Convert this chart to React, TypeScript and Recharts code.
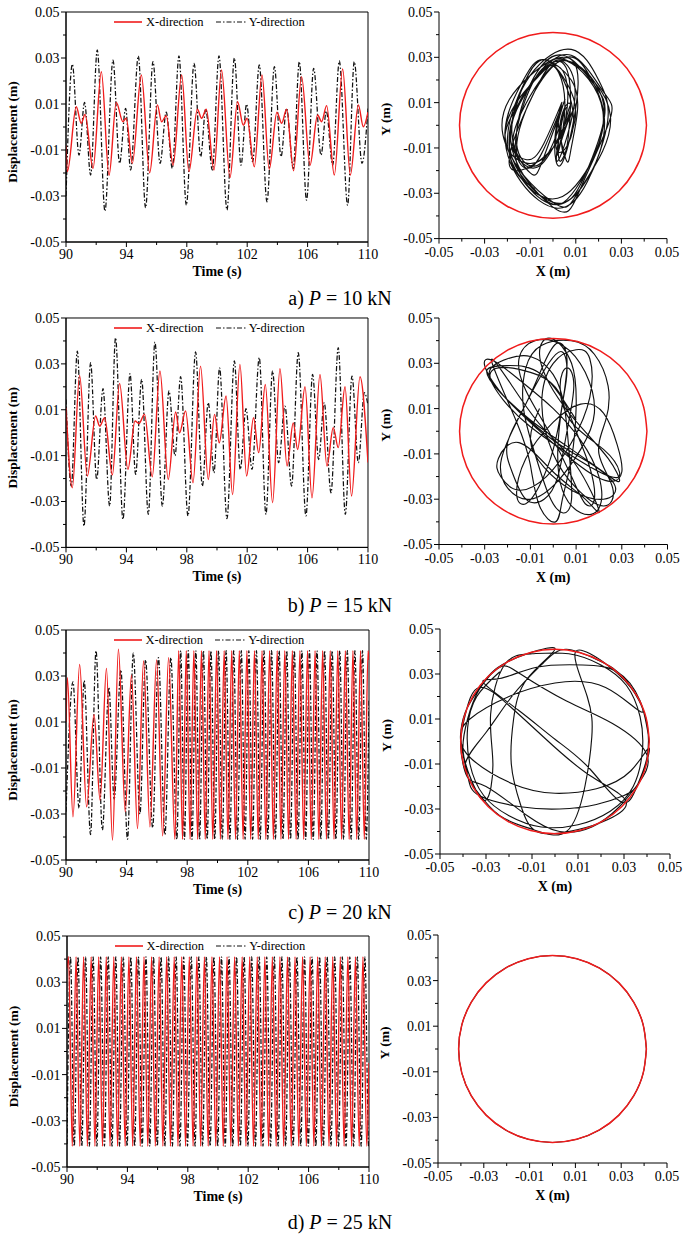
import React from 'react';
import { LineChart, Line, XAxis, YAxis, ReferenceArea, Legend } from 'recharts';

type Pt = [number, number];

const FONT = '"Liberation Serif", "Times New Roman", Times, serif';
const RED = '#f01c1c';
const INK = '#111111';
const DASH = '5 2 1.5 2';

// axis ticks (minor ticks are the ones that are not in the major list)
const timeTicks = [90, 92, 94, 96, 98, 100, 102, 104, 106, 108, 110];
const timeMajor = [90, 94, 98, 102, 106, 110];
const dispTicks = [-0.05, -0.04, -0.03, -0.02, -0.01, 0, 0.01, 0.02, 0.03, 0.04, 0.05];
const dispMajor = [-0.05, -0.03, -0.01, 0.01, 0.03, 0.05];

// a) P = 10 kN : time histories [t (s), displacement (m)], read at the turning points
const aX: Pt[] = [
  [90.0, -0.008], [90.09, -0.0194], [90.68, 0.0088], [91.01, 0.0016], [91.26, 0.0055], [91.79, -0.018],
  [92.34, 0.024], [92.85, -0.021], [93.33, 0.0107], [93.77, 0.0023], [93.99, 0.0038], [94.39, -0.0158],
  [94.99, 0.0226], [95.54, -0.0199], [96.05, 0.0096], [96.33, 0.0023], [96.64, 0.0049], [97.09, -0.0166],
  [97.66, 0.0226], [98.14, -0.0194], [98.7, 0.0077], [98.98, 0.0038], [99.29, 0.0077], [99.8, -0.0187],
  [100.3, 0.0248], [100.86, -0.022], [101.36, 0.011], [101.74, 0.0008], [101.99, 0.0038], [102.47, -0.0173],
  [102.98, 0.0226], [103.46, -0.0184], [103.97, 0.0064], [104.28, 0.0016], [104.61, 0.0077], [105.07, -0.019],
  [105.6, 0.0219], [106.16, -0.0166], [106.66, 0.0052], [106.93, 0.0023], [107.26, 0.0093], [107.77, -0.0209],
  [108.32, 0.0252], [108.83, -0.0209], [109.36, 0.0096], [109.69, 0.0001], [110.0, 0.0065],
];
const aY: Pt[] = [
  [90.0, -0.03], [90.42, 0.0273], [90.86, -0.0122], [91.23, 0.0107], [91.63, -0.0209], [92.07, 0.0335],
  [92.58, -0.0366], [93.11, 0.0291], [93.55, -0.0158], [93.95, 0.0081], [94.28, -0.0187], [94.79, 0.0309],
  [95.27, -0.0351], [95.76, 0.0284], [96.23, -0.0158], [96.64, 0.0065], [97.04, -0.018], [97.48, 0.0309],
  [97.97, -0.034], [98.48, 0.0277], [98.92, -0.0129], [99.25, 0.0078], [99.69, -0.0187], [100.13, 0.0309],
  [100.66, -0.0361], [101.15, 0.03], [101.59, -0.0166], [101.96, 0.0099], [102.36, -0.0151], [102.8, 0.027],
  [103.31, -0.0325], [103.8, 0.0262], [104.24, -0.0129], [104.61, 0.0081], [105.05, -0.018], [105.45, 0.0284],
  [105.93, -0.0318], [106.4, 0.0255], [106.89, -0.0122], [107.24, 0.0069], [107.66, -0.0166], [108.1, 0.0287],
  [108.65, -0.034], [109.09, 0.0284], [109.6, -0.0158], [110.0, 0.008],
];

// b) P = 15 kN
const bX: Pt[] = [
  [90.0, 0.011], [90.42, -0.024], [90.9, 0.025], [91.41, -0.0189], [91.96, 0.0073], [92.23, 0.0029],
  [92.56, 0.0065], [93.07, -0.0184], [93.55, 0.0215], [94.1, -0.016], [94.57, 0.0051], [94.83, 0.004],
  [95.2, 0.008], [95.71, -0.0192], [96.22, 0.0269], [96.77, -0.0204], [97.26, 0.009], [97.52, 0.0],
  [97.92, 0.0095], [98.41, -0.0218], [98.91, 0.029], [99.42, -0.0204], [99.84, 0.008], [100.15, -0.0044],
  [100.6, 0.016], [101.03, -0.027], [101.52, 0.0298], [101.96, -0.0189], [102.42, 0.0065], [102.76, -0.0087],
  [103.2, 0.021], [103.68, -0.0305], [104.17, 0.0279], [104.64, -0.0145], [105.05, 0.0043], [105.34, -0.0073],
  [105.83, 0.02], [106.29, -0.0284], [106.82, 0.0254], [107.28, -0.0145], [107.7, 0.0022], [108.03, -0.0065],
  [108.48, 0.02], [108.91, -0.0276], [109.47, 0.0244], [110.0, -0.013],
];
const bY: Pt[] = [
  [90.0, 0.0145], [90.35, -0.0233], [90.75, 0.0356], [91.19, -0.0407], [91.63, 0.0305], [92.03, -0.0204],
  [92.45, 0.0192], [92.89, -0.032], [93.28, 0.0414], [93.77, -0.0378], [94.24, 0.0257], [94.61, -0.0182],
  [95.01, 0.0233], [95.45, -0.0356], [95.89, 0.0395], [96.38, -0.032], [96.82, 0.0182], [97.22, -0.01],
  [97.59, 0.0244], [98.08, -0.0363], [98.58, 0.0352], [99.03, -0.0233], [99.42, 0.0131], [99.8, -0.0175],
  [100.17, 0.0283], [100.66, -0.0375], [101.15, 0.0313], [101.54, -0.016], [101.92, 0.0105], [102.32, -0.016],
  [102.8, 0.0327], [103.24, -0.0356], [103.68, 0.0269], [104.08, -0.0131], [104.5, 0.0116], [104.94, -0.0233],
  [105.38, 0.0349], [105.89, -0.0363], [106.33, 0.0254], [106.73, -0.0117], [107.1, 0.0131], [107.55, -0.0262],
  [108.03, 0.0371], [108.5, -0.0356], [108.94, 0.0247], [109.36, -0.0131], [109.76, 0.0175], [110.0, 0.012],
];

// c) P = 20 kN
const cX: Pt[] = [
  [90.0, 0.01], [90.09, 0.0293], [90.46, -0.0312], [90.9, 0.035], [91.36, -0.0269], [91.85, 0.0133],
  [92.25, -0.024], [92.67, 0.0333], [93.07, -0.0413], [93.46, 0.0416], [93.91, -0.029], [94.32, 0.0304],
  [94.72, -0.0363], [95.12, 0.0365], [95.54, -0.0356], [95.98, 0.037], [96.38, -0.0395], [96.77, 0.038],
  [97.19, -0.041], [97.44, 0.041], [97.69, -0.041], [97.94, 0.041], [98.19, -0.041], [98.44, 0.041],
  [98.69, -0.041], [98.94, 0.041], [99.19, -0.041], [99.44, 0.041], [99.69, -0.041], [99.94, 0.041],
  [100.19, -0.041], [100.44, 0.041], [100.69, -0.041], [100.94, 0.041], [101.19, -0.041], [101.44, 0.041],
  [101.69, -0.041], [101.94, 0.041], [102.19, -0.041], [102.44, 0.041], [102.69, -0.041], [102.94, 0.041],
  [103.19, -0.041], [103.44, 0.041], [103.69, -0.041], [103.94, 0.041], [104.19, -0.041], [104.44, 0.041],
  [104.69, -0.041], [104.94, 0.041], [105.19, -0.041], [105.44, 0.041], [105.69, -0.041], [105.94, 0.041],
  [106.19, -0.041], [106.44, 0.041], [106.69, -0.041], [106.94, 0.041], [107.19, -0.041], [107.44, 0.041],
  [107.69, -0.041], [107.94, 0.041], [108.19, -0.041], [108.44, 0.041], [108.69, -0.041], [108.94, 0.041],
  [109.19, -0.041], [109.44, 0.041], [109.69, -0.041], [109.94, 0.041], [110.0, 0.037],
];
const cY: Pt[] = [
  [90.0, -0.029], [90.46, 0.0275], [90.86, -0.0275], [91.2, 0.028], [91.62, -0.039], [91.98, 0.041],
  [92.4, -0.037], [92.83, 0.025], [93.18, -0.0235], [93.62, 0.0326], [94.06, -0.041], [94.44, 0.04],
  [94.88, -0.03], [95.25, 0.037], [95.72, -0.036], [96.1, 0.038], [96.53, -0.039], [96.92, 0.038],
  [97.32, -0.041], [97.57, 0.041], [97.82, -0.041], [98.07, 0.041], [98.32, -0.041], [98.57, 0.041],
  [98.82, -0.041], [99.07, 0.041], [99.32, -0.041], [99.57, 0.041], [99.82, -0.041], [100.07, 0.041],
  [100.32, -0.041], [100.57, 0.041], [100.82, -0.041], [101.07, 0.041], [101.32, -0.041], [101.57, 0.041],
  [101.82, -0.041], [102.07, 0.041], [102.32, -0.041], [102.57, 0.041], [102.82, -0.041], [103.07, 0.041],
  [103.32, -0.041], [103.57, 0.041], [103.82, -0.041], [104.07, 0.041], [104.32, -0.041], [104.57, 0.041],
  [104.82, -0.041], [105.07, 0.041], [105.32, -0.041], [105.57, 0.041], [105.82, -0.041], [106.07, 0.041],
  [106.32, -0.041], [106.57, 0.041], [106.82, -0.041], [107.07, 0.041], [107.32, -0.041], [107.57, 0.041],
  [107.82, -0.041], [108.07, 0.041], [108.32, -0.041], [108.57, 0.041], [108.82, -0.041], [109.07, 0.041],
  [109.32, -0.041], [109.57, 0.041], [109.82, -0.041], [110.0, 0.02],
];

// d) P = 25 kN
const dX: Pt[] = [
  [90.0, 0.036], [90.1, 0.041], [90.35, -0.041], [90.6, 0.041], [90.85, -0.041], [91.1, 0.041], [91.35, -0.041],
  [91.6, 0.041], [91.85, -0.041], [92.1, 0.041], [92.35, -0.041], [92.6, 0.041], [92.85, -0.041],
  [93.1, 0.041], [93.35, -0.041], [93.6, 0.041], [93.85, -0.041], [94.1, 0.041], [94.35, -0.041],
  [94.6, 0.041], [94.85, -0.041], [95.1, 0.041], [95.35, -0.041], [95.6, 0.041], [95.85, -0.041],
  [96.1, 0.041], [96.35, -0.041], [96.6, 0.041], [96.85, -0.041], [97.1, 0.041], [97.35, -0.041],
  [97.6, 0.041], [97.85, -0.041], [98.1, 0.041], [98.35, -0.041], [98.6, 0.041], [98.85, -0.041],
  [99.1, 0.041], [99.35, -0.041], [99.6, 0.041], [99.85, -0.041], [100.1, 0.041], [100.35, -0.041],
  [100.6, 0.041], [100.85, -0.041], [101.1, 0.041], [101.35, -0.041], [101.6, 0.041], [101.85, -0.041],
  [102.1, 0.041], [102.35, -0.041], [102.6, 0.041], [102.85, -0.041], [103.1, 0.041], [103.35, -0.041],
  [103.6, 0.041], [103.85, -0.041], [104.1, 0.041], [104.35, -0.041], [104.6, 0.041], [104.85, -0.041],
  [105.1, 0.041], [105.35, -0.041], [105.6, 0.041], [105.85, -0.041], [106.1, 0.041], [106.35, -0.041],
  [106.6, 0.041], [106.85, -0.041], [107.1, 0.041], [107.35, -0.041], [107.6, 0.041], [107.85, -0.041],
  [108.1, 0.041], [108.35, -0.041], [108.6, 0.041], [108.85, -0.041], [109.1, 0.041], [109.35, -0.041],
  [109.6, 0.041], [109.85, -0.041], [110.0, -0.005],
];
const dY: Pt[] = [
  [90.0, -0.04], [90.23, 0.041], [90.48, -0.041], [90.73, 0.041], [90.98, -0.041], [91.23, 0.041],
  [91.48, -0.041], [91.73, 0.041], [91.98, -0.041], [92.23, 0.041], [92.48, -0.041], [92.73, 0.041],
  [92.98, -0.041], [93.23, 0.041], [93.48, -0.041], [93.73, 0.041], [93.98, -0.041], [94.23, 0.041],
  [94.48, -0.041], [94.73, 0.041], [94.98, -0.041], [95.23, 0.041], [95.48, -0.041], [95.73, 0.041],
  [95.98, -0.041], [96.23, 0.041], [96.48, -0.041], [96.73, 0.041], [96.98, -0.041], [97.23, 0.041],
  [97.48, -0.041], [97.73, 0.041], [97.98, -0.041], [98.23, 0.041], [98.48, -0.041], [98.73, 0.041],
  [98.98, -0.041], [99.23, 0.041], [99.48, -0.041], [99.73, 0.041], [99.98, -0.041], [100.23, 0.041],
  [100.48, -0.041], [100.73, 0.041], [100.98, -0.041], [101.23, 0.041], [101.48, -0.041], [101.73, 0.041],
  [101.98, -0.041], [102.23, 0.041], [102.48, -0.041], [102.73, 0.041], [102.98, -0.041], [103.23, 0.041],
  [103.48, -0.041], [103.73, 0.041], [103.98, -0.041], [104.23, 0.041], [104.48, -0.041], [104.73, 0.041],
  [104.98, -0.041], [105.23, 0.041], [105.48, -0.041], [105.73, 0.041], [105.98, -0.041], [106.23, 0.041],
  [106.48, -0.041], [106.73, 0.041], [106.98, -0.041], [107.23, 0.041], [107.48, -0.041], [107.73, 0.041],
  [107.98, -0.041], [108.23, 0.041], [108.48, -0.041], [108.73, 0.041], [108.98, -0.041], [109.23, 0.041],
  [109.48, -0.041], [109.73, 0.041], [109.98, -0.041], [110.0, -0.041],
];

// orbits [X (m), Y (m)]
const orbitA: Pt[] = [
  [-0.008, -0.028], [-0.019, -0.012], [-0.012, 0.02], [0.0, 0.027], [0.009, 0.003], [0.003, -0.012],
  [0.002, 0.0], [0.005, 0.0107], [-0.004, -0.014], [-0.01, -0.021], [-0.018, -0.004], [-0.01, 0.022],
  [0.008, 0.0335], [0.02, 0.02], [0.024, 0.002], [0.015, -0.025], [0.002, -0.0366], [-0.014, -0.025],
  [-0.021, -0.002], [-0.013, 0.02], [-0.004, 0.029], [0.008, 0.02], [0.0107, 0.006], [0.008, -0.01],
  [0.006, -0.0158], [0.003, -0.004], [0.0025, 0.004], [0.0037, 0.0081], [-0.002, -0.006], [-0.01, -0.0187],
  [-0.016, -0.01], [-0.008, 0.015], [0.006, 0.03], [0.016, 0.022], [0.0226, 0.002], [0.016, -0.022],
  [0.002, -0.035], [-0.012, -0.026], [-0.02, -0.006], [-0.012, 0.02], [-0.002, 0.0284], [0.009, 0.012],
  [0.008, -0.004], [0.003, -0.0158], [0.003, 0.0], [0.005, 0.0065], [0.0, -0.008], [-0.008, -0.018],
  [-0.016, -0.008], [-0.01, 0.018], [0.004, 0.031], [0.018, 0.018], [0.0226, 0.004], [0.014, -0.022],
  [0.0, -0.034], [-0.019, -0.01], [-0.008, 0.02], [0.004, 0.0277], [0.0077, 0.01], [0.005, -0.0129],
  [0.004, 0.004], [0.0077, 0.0078], [0.0, -0.01], [-0.01, -0.0187], [-0.0187, -0.004], [-0.008, 0.02],
  [0.008, 0.0309], [0.022, 0.015], [0.0248, 0.002], [0.012, -0.028], [0.0, -0.0361], [-0.022, -0.004],
  [-0.01, 0.022], [0.004, 0.03], [0.011, 0.018], [0.004, -0.0166], [0.001, -0.004], [0.0038, 0.0099],
  [-0.004, -0.008], [-0.012, -0.0151], [-0.0173, -0.004], [-0.004, 0.022], [0.01, 0.027], [0.0226, 0.005],
  [0.01, -0.028], [-0.004, -0.0325], [-0.0184, -0.008], [-0.01, 0.018], [0.002, 0.0262], [0.0064, 0.01],
  [0.002, -0.0129], [0.005, 0.0], [0.0077, 0.0081], [0.0, -0.01], [-0.019, -0.018], [-0.008, 0.015],
  [0.006, 0.0284], [0.0219, 0.006], [0.012, -0.024], [-0.004, -0.0318], [-0.0166, -0.01], [-0.004, 0.0255],
  [0.0052, 0.01], [0.002, -0.0122], [0.006, 0.0], [0.009, 0.0069], [0.0, -0.01], [-0.012, -0.0166],
  [-0.021, -0.004], [-0.008, 0.02], [0.006, 0.0287], [0.0252, 0.004], [0.012, -0.028], [0.0, -0.034],
  [-0.0209, -0.006], [-0.006, 0.022], [0.004, 0.0284], [0.0096, 0.012], [0.002, -0.0158], [0.004, 0.002],
  [0.0065, 0.008],
];
const orbitB: Pt[] = [
  [0.01, 0.005], [-0.005, 0.025], [-0.02, 0.029], [-0.029, 0.027], [-0.024, 0.018], [-0.01, 0.005],
  [0.008, -0.008], [0.022, -0.018], [0.029, -0.022], [0.024, -0.012], [0.012, 0.002], [0.0, 0.018],
  [-0.006, 0.034], [-0.001, 0.041], [0.008, 0.03], [0.01, 0.01], [0.008, -0.012], [0.004, -0.03],
  [0.001, -0.04], [-0.006, -0.033], [-0.01, -0.015], [-0.016, 0.004], [-0.027, 0.031], [-0.018, 0.02],
  [-0.005, 0.002], [0.01, -0.015], [0.02, -0.035], [0.014, -0.03], [0.0, -0.018], [-0.015, -0.005],
  [-0.024, -0.012], [-0.023, -0.02], [-0.015, -0.026], [-0.003, -0.02], [0.008, -0.005], [0.016, 0.015],
  [0.016, 0.032], [0.01, 0.036], [0.0, 0.03], [-0.005, 0.012], [0.0, -0.01], [0.01, -0.025],
  [0.022, -0.033], [0.026, -0.025], [0.02, -0.01], [0.023, 0.005], [0.024, 0.02], [0.018, 0.034],
  [0.008, 0.04], [-0.005, 0.038], [-0.012, 0.028], [-0.013, 0.01], [-0.008, -0.01], [-0.002, -0.028],
  [0.004, -0.036], [0.008, -0.03], [0.007, -0.01], [0.005, 0.01], [0.0, 0.025], [-0.01, 0.033],
  [-0.02, 0.032], [-0.028, 0.026], [-0.022, 0.014], [-0.01, 0.002], [0.01, -0.012], [0.025, -0.02],
  [0.029, -0.018], [0.022, -0.008], [0.008, 0.004], [0.003, 0.02], [0.006, 0.028], [0.009, 0.02],
  [0.006, 0.0], [0.002, -0.02], [-0.004, -0.03], [-0.012, -0.03], [-0.018, -0.018], [-0.02, -0.005],
  [-0.012, 0.012], [-0.004, 0.03], [0.002, 0.039], [0.006, 0.032], [0.004, 0.012], [0.0, -0.008],
  [-0.006, -0.024], [-0.012, -0.032], [-0.016, -0.028], [-0.012, -0.012], [0.0, 0.004], [0.012, 0.012],
  [0.022, 0.008], [0.028, -0.006], [0.03, -0.018], [0.024, -0.022], [0.01, -0.014], [-0.008, 0.002],
  [-0.022, 0.016], [-0.03, 0.029], [-0.026, 0.031], [-0.014, 0.022], [0.0, 0.01], [0.012, -0.004],
  [0.02, -0.02], [0.02, -0.034], [0.012, -0.036], [0.004, -0.026], [0.002, -0.008], [0.004, 0.012],
  [0.006, 0.026], [0.004, 0.035], [-0.002, 0.03], [-0.01, 0.016], [-0.018, 0.0], [-0.023, -0.014],
  [-0.02, -0.025], [-0.01, -0.03], [0.002, -0.022], [0.012, -0.008], [0.018, 0.008], [0.014, 0.026],
  [0.004, 0.038], [-0.008, 0.04], [-0.015, 0.032], [-0.012, 0.018], [-0.002, 0.0], [0.008, -0.02],
  [0.014, -0.032], [0.018, -0.03], [0.016, -0.016], [0.01, 0.0], [0.002, 0.018], [-0.01, 0.026],
  [-0.024, 0.028], [-0.027, 0.022], [-0.016, 0.01], [0.0, -0.004], [0.016, -0.014], [0.027, -0.024],
  [0.022, -0.03], [0.008, -0.026], [-0.004, -0.016], [-0.01, -0.004], [-0.006, 0.01],
];
const orbitC: Pt[] = [
  [0.041, 0.0], [0.037, 0.018], [0.027, 0.031], [0.012, 0.034], [-0.008, 0.033], [-0.024, 0.028],
  [-0.031, 0.026], [-0.016, 0.014], [0.0, 0.001], [0.015, -0.012], [0.029, -0.027], [0.036, -0.019],
  [0.04, -0.007], [0.04, 0.008], [0.035, 0.021], [0.024, 0.033], [0.009, 0.04], [0.014, 0.02],
  [0.016, 0.002], [0.013, -0.02], [0.005, -0.04], [-0.01, -0.039], [-0.024, -0.033], [-0.034, -0.022],
  [-0.039, -0.01], [-0.03, 0.004], [-0.018, 0.021], [-0.005, 0.035], [0.005, 0.041], [0.019, 0.036],
  [0.031, 0.027], [0.038, 0.013], [0.022, 0.024], [0.0, 0.026], [-0.02, 0.02], [-0.037, 0.01],
  [-0.041, 0.0], [-0.038, -0.015], [-0.033, -0.024], [-0.015, -0.029], [0.002, -0.03], [0.018, -0.028],
  [0.03, -0.024], [0.037, -0.017], [0.041, -0.003], [0.033, -0.013], [0.018, -0.021], [0.0, -0.023],
  [-0.018, -0.019], [-0.036, -0.008], [-0.041, 0.002], [-0.039, 0.013], [-0.034, 0.022], [-0.026, 0.032],
  [-0.012, 0.039], [0.0, 0.041], [-0.012, 0.028], [-0.018, 0.01], [-0.019, -0.01], [-0.015, -0.028],
  [-0.008, -0.04], [0.006, -0.04], [0.02, -0.036], [0.031, -0.027], [0.015, -0.015], [-0.005, 0.002],
  [-0.02, 0.016], [-0.033, 0.024], [-0.039, 0.012], [-0.041, -0.002], [-0.038, -0.016], [-0.03, -0.02],
  [-0.012, -0.033], [0.002, -0.04], [0.016, -0.038], [0.028, -0.029], [0.036, -0.019], [0.04, -0.006],
  [0.025, 0.008], [0.005, 0.018], [-0.015, 0.03], [-0.024, 0.033], [-0.033, 0.023], [-0.038, 0.01],
  [-0.04, -0.004], [-0.036, -0.018], [-0.03, -0.026], [-0.027, -0.01], [-0.028, 0.012], [-0.022, 0.034],
  [-0.01, 0.039], [0.006, 0.039], [0.02, 0.034], [0.031, 0.025], [0.037, 0.011], [0.038, -0.004],
  [0.034, -0.02], [0.024, -0.031], [0.01, -0.037], [-0.006, -0.038], [-0.02, -0.033], [-0.031, -0.024],
  [-0.037, -0.01], [-0.038, 0.006], [-0.034, 0.02], [-0.024, 0.031],
];
// clearance circle (radius about 0.041 m), also where the d) orbit runs
const clearance: Pt[] = [
  [0.041, 0.0], [0.0396, 0.0106], [0.0355, 0.0205], [0.029, 0.029], [0.0205, 0.0355], [0.0106, 0.0396],
  [0.0, 0.041], [-0.0106, 0.0396], [-0.0205, 0.0355], [-0.029, 0.029], [-0.0355, 0.0205], [-0.0396, 0.0106],
  [-0.041, 0.0], [-0.0396, -0.0106], [-0.0355, -0.0205], [-0.029, -0.029], [-0.0205, -0.0355], [-0.0106, -0.0396],
  [0.0, -0.041], [0.0106, -0.0396], [0.0205, -0.0355], [0.029, -0.029], [0.0355, -0.0205], [0.0396, -0.0106],
  [0.041, 0.0],
];

const toTV = (pts: Pt[]) => pts.map(([t, v]) => ({ t, v }));
const toXY = (pts: Pt[]) => pts.map(([x, y]) => ({ x, y }));
const isMajor = (v: number, majors: number[]) => majors.some((m) => Math.abs(m - v) < 1e-9);

function leftTick(majors: number[]) {
  return (props: any) => {
    const { x, y, payload } = props;
    const major = isMajor(payload.value, majors);
    return (
      <g>
        <line x1={x - (major ? 5 : 3)} x2={x} y1={y} y2={y} stroke="#000" strokeWidth={1} />
        {major && (
          <text x={x - 6.5} y={y} dy="0.35em" textAnchor="end" fontFamily={FONT} fontSize={14} fill="#000">
            {payload.value.toFixed(2)}
          </text>
        )}
      </g>
    );
  };
}

function bottomTick(majors: number[], digits: number, drop: number) {
  return (props: any) => {
    const { x, y, payload } = props;
    const major = isMajor(payload.value, majors);
    return (
      <g>
        <line x1={x} x2={x} y1={y} y2={y + (major ? 5 : 3)} stroke="#000" strokeWidth={1} />
        {major && (
          <text x={x} y={y + drop} textAnchor="middle" fontFamily={FONT} fontSize={14} fill="#000">
            {payload.value.toFixed(digits)}
          </text>
        )}
      </g>
    );
  };
}

const yTitle = (text: string, dx: number, dy: number) => (props: any) => {
  const vb = props.viewBox || { x: 0, y: 0, width: 0, height: 0 };
  const cx = vb.x + vb.width + dx;
  const cy = vb.y + vb.height / 2 + dy;
  return (
    <text transform={`translate(${cx},${cy}) rotate(-90)`} textAnchor="middle" fontFamily={FONT}
      fontWeight="bold" fontSize={13.5} fill="#000">{text}</text>
  );
};

const xTitle = (text: string, drop: number) => (props: any) => {
  const vb = props.viewBox || { x: 0, y: 0, width: 0, height: 0 };
  return (
    <text x={vb.x + vb.width / 2} y={vb.y + drop} textAnchor="middle" fontFamily={FONT}
      fontWeight="bold" fontSize={14} fill="#000">{text}</text>
  );
};

function SeriesKey() {
  return (
    <div style={{ display: 'flex', alignItems: 'center', fontFamily: FONT, fontSize: 12.5, color: '#000', whiteSpace: 'nowrap', lineHeight: '14px' }}>
      <svg width={28} height={6}><line x1={0} x2={28} y1={3} y2={3} stroke={RED} strokeWidth={1.6} /></svg>
      <span style={{ marginLeft: 4, marginRight: 12 }}>X-direction</span>
      <svg width={31} height={6}><line x1={0} x2={31} y1={3} y2={3} stroke={INK} strokeWidth={1.2} strokeDasharray={DASH} /></svg>
      <span style={{ marginLeft: 2 }}>Y-direction</span>
    </div>
  );
}

type Box = { x: number; y: number; w: number; h: number };

function TimePanel({ box, xs, ys }: { box: Box; xs: Pt[]; ys: Pt[] }) {
  const W = box.w + 66 + 20;
  const H = box.h + 12 + 50;
  return (
    <div style={{ position: 'absolute', left: box.x - 66, top: box.y - 12 }}>
      <LineChart width={W} height={H} margin={{ top: 12, right: 20, bottom: 49, left: 65 }}>
        <XAxis dataKey="t" type="number" domain={[90, 110]} ticks={timeTicks} interval={0} height={1}
          tickLine={false} tickSize={0} tickMargin={0} axisLine={{ stroke: '#000' }} allowDataOverflow
          tick={bottomTick(timeMajor, 0, 16.5)} label={{ content: xTitle('Time (s)', 33.5) }} />
        <YAxis type="number" domain={[-0.05, 0.05]} ticks={dispTicks} interval={0} width={1}
          tickLine={false} tickSize={0} tickMargin={0} axisLine={{ stroke: '#000' }} allowDataOverflow
          tick={leftTick(dispMajor)} label={{ content: yTitle('Displacement (m)', -49, 5) }} />
        <ReferenceArea x1={90} x2={110} y1={-0.05} y2={0.05} fill="none" stroke="#000" strokeWidth={1} />
        <Line data={toTV(ys)} dataKey="v" type="monotone" stroke={INK} strokeWidth={1.25} strokeDasharray={DASH}
          dot={false} activeDot={false} isAnimationActive={false} />
        <Line data={toTV(xs)} dataKey="v" type="monotone" stroke={RED} strokeWidth={1.4}
          dot={false} activeDot={false} isAnimationActive={false} />
        <Legend verticalAlign="middle" align="center" layout="horizontal" content={() => <SeriesKey />}
          wrapperStyle={{ top: 15, left: 114, width: 230, height: 14 }} />
      </LineChart>
    </div>
  );
}

function OrbitPanel({ box, path }: { box: Box; path: Pt[] }) {
  const W = box.w + 70 + 14;
  const H = box.h + 12 + 50;
  return (
    <div style={{ position: 'absolute', left: box.x - 70, top: box.y - 12 }}>
      <LineChart width={W} height={H} margin={{ top: 12, right: 14, bottom: 49, left: 69 }}>
        <XAxis dataKey="x" type="number" domain={[-0.05, 0.05]} ticks={dispTicks} interval={0} height={1}
          tickLine={false} tickSize={0} tickMargin={0} axisLine={{ stroke: '#000' }} allowDataOverflow
          tick={bottomTick(dispMajor, 2, 18)} label={{ content: xTitle('X (m)', 37) }} />
        <YAxis dataKey="y" type="number" domain={[-0.05, 0.05]} ticks={dispTicks} interval={0} width={1}
          tickLine={false} tickSize={0} tickMargin={0} axisLine={{ stroke: '#000' }} allowDataOverflow
          tick={leftTick(dispMajor)} label={{ content: yTitle('Y (m)', -49, -6) }} />
        <Line data={toXY(path)} dataKey="y" type="natural" stroke={INK} strokeWidth={1.15}
          dot={false} activeDot={false} isAnimationActive={false} />
        <Line data={toXY(clearance)} dataKey="y" type="natural" stroke={RED} strokeWidth={1.5}
          dot={false} activeDot={false} isAnimationActive={false} />
      </LineChart>
    </div>
  );
}

function Caption({ tag, load, cy }: { tag: string; load: string; cy: number }) {
  return (
    <div style={{ position: 'absolute', left: 240, width: 200, top: cy - 12, height: 24, lineHeight: '24px',
      textAlign: 'center', fontFamily: FONT, fontSize: 20, color: '#000', whiteSpace: 'nowrap' }}>
      {tag} <i>P</i>&nbsp;=&nbsp;{load} kN
    </div>
  );
}

export default function App() {
  return (
    <div style={{ position: 'absolute', left: 0, top: 0, width: 685, height: 1237, background: '#fff' }}>
      <TimePanel box={{ x: 66, y: 12, w: 302, h: 230 }} xs={aX} ys={aY} />
      <OrbitPanel box={{ x: 438.5, y: 11.7, w: 228, h: 226.6 }} path={orbitA} />
      <Caption tag="a)" load="10" cy={298} />

      <TimePanel box={{ x: 66, y: 318.3, w: 302, h: 229.4 }} xs={bX} ys={bY} />
      <OrbitPanel box={{ x: 438.5, y: 318, w: 228.5, h: 226.5 }} path={orbitB} />
      <Caption tag="b)" load="15" cy={605} />

      <TimePanel box={{ x: 65.5, y: 630, w: 303, h: 230 }} xs={cX} ys={cY} />
      <OrbitPanel box={{ x: 440, y: 629, w: 230, h: 225 }} path={orbitC} />
      <Caption tag="c)" load="20" cy={912} />

      <TimePanel box={{ x: 66.5, y: 935.7, w: 302, h: 231 }} xs={dX} ys={dY} />
      <OrbitPanel box={{ x: 437.5, y: 935, w: 229, h: 228 }} path={clearance} />
      <Caption tag="d)" load="25" cy={1222} />
    </div>
  );
}
